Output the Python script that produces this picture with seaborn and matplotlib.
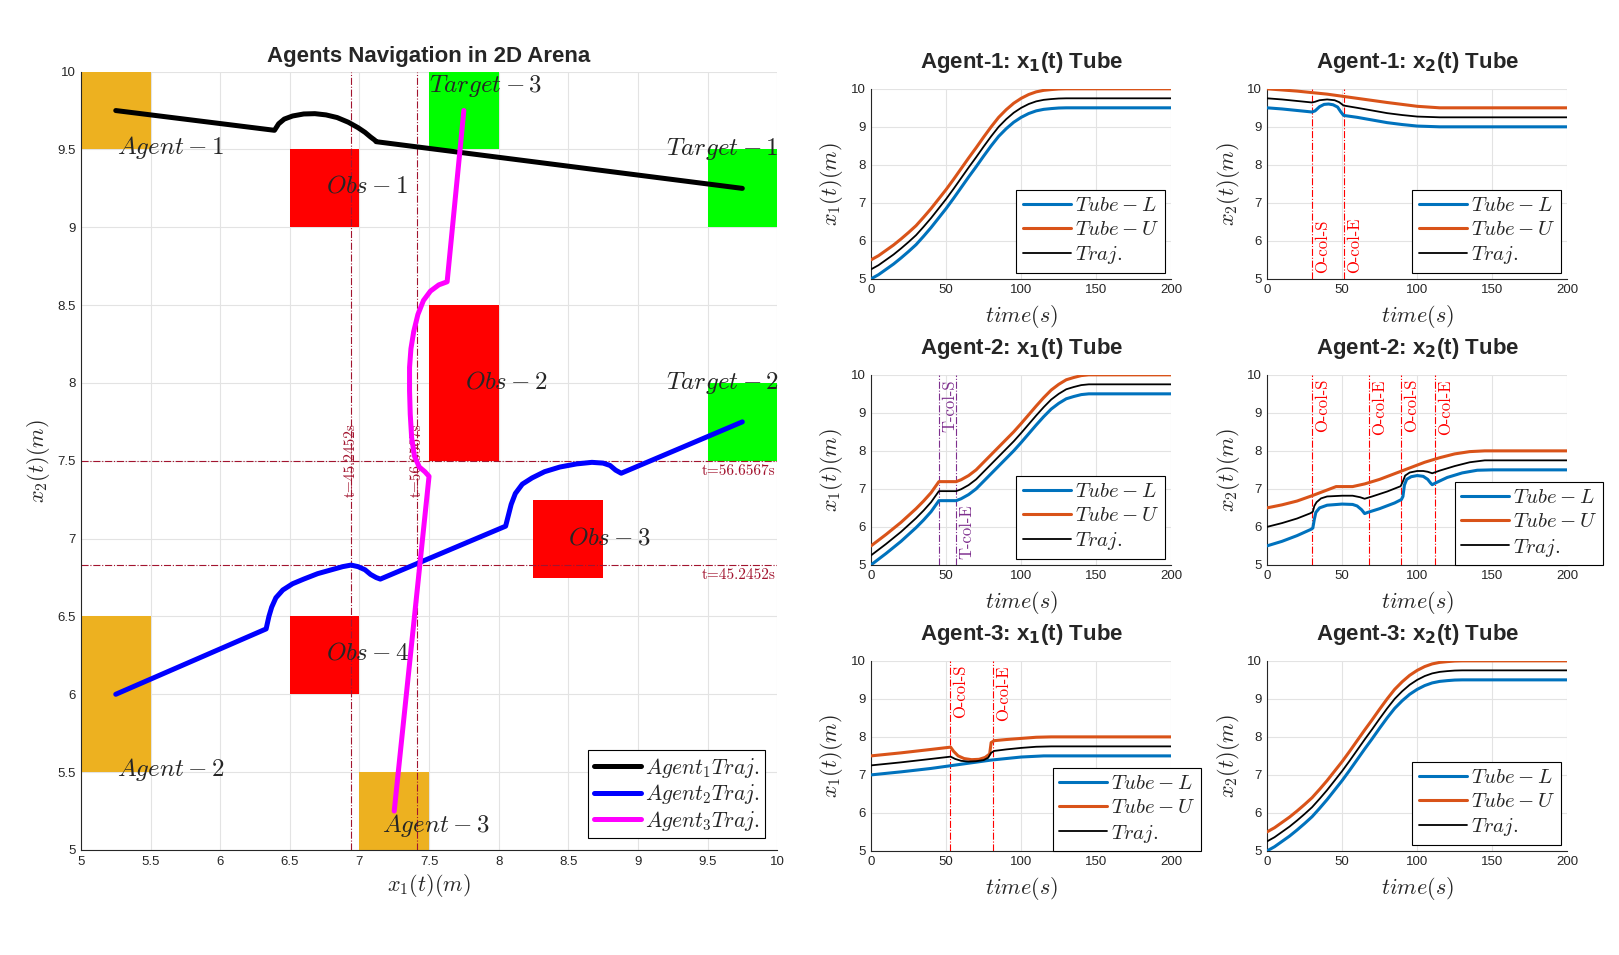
import matplotlib
matplotlib.use("Agg")
import matplotlib.pyplot as plt
import matplotlib.transforms as mtransforms
from matplotlib.patches import Rectangle
import seaborn as sns

# ---------------- arena (left panel) ----------------
START_BOXES = [(5.0, 9.5, 0.5, 0.5), (5.0, 5.5, 0.5, 1.0), (7.0, 5.0, 0.5, 0.5)]
OBS_BOXES = [(6.5, 9.0, 0.5, 0.5), (7.5, 7.5, 0.5, 1.0), (8.25, 6.75, 0.5, 0.5), (6.5, 6.0, 0.5, 0.5)]
TARGET_BOXES = [(9.5, 9.0, 0.5, 0.5), (9.5, 7.5, 0.5, 0.5), (7.5, 9.5, 0.5, 0.5)]

ARENA_TEXT = ["$Agent-1$", "$Agent-2$", "$Agent-3$", "$Obs-1$", "$Obs-2$", "$Obs-3$", "$Obs-4$",
              "$Target-1$", "$Target-2$", "$Target-3$"]
ARENA_TEXT_X = [5.26, 5.26, 7.16, 6.76, 7.76, 8.5, 6.76, 9.2, 9.2, 7.5]
ARENA_TEXT_Y = [9.51, 5.52, 5.16, 9.27, 8.01, 7.01, 6.27, 9.5, 8.0, 9.91]

A1_X = [5.25, 6.39, 6.42, 6.46, 6.52, 6.6, 6.68, 6.76, 6.84, 6.92, 6.99, 7.04, 7.08, 7.11, 7.12, 9.75]
A1_Y = [9.75, 9.623, 9.665, 9.695, 9.715, 9.728, 9.73, 9.722, 9.705, 9.675, 9.64, 9.61, 9.58, 9.56, 9.55, 9.25]

A2_X = [5.25, 6.33, 6.35, 6.37, 6.4, 6.45, 6.52, 6.6, 6.7, 6.8, 6.88, 6.94, 6.99, 7.04, 7.08, 7.12, 7.15,
        8.05, 8.07, 8.09, 8.12, 8.17, 8.24, 8.33, 8.44, 8.56, 8.67, 8.75, 8.8, 8.84, 8.88, 9.75]
A2_Y = [6.0, 6.42, 6.5, 6.56, 6.62, 6.67, 6.71, 6.74, 6.775, 6.8, 6.82, 6.83, 6.82, 6.8, 6.77, 6.75, 6.74,
        7.08, 7.15, 7.22, 7.29, 7.35, 7.39, 7.43, 7.46, 7.48, 7.49, 7.485, 7.47, 7.44, 7.42, 7.75]

A3_X = [7.25, 7.5, 7.47, 7.43, 7.395, 7.375, 7.365, 7.36, 7.36, 7.37, 7.39, 7.42, 7.46, 7.51, 7.57, 7.63, 7.75]
A3_Y = [5.25, 7.4, 7.43, 7.46, 7.53, 7.65, 7.8, 7.95, 8.1, 8.22, 8.33, 8.44, 8.53, 8.59, 8.63, 8.65, 9.75]

COLLIDE_X = [6.94, 7.41]          # x1 positions at the collision times
COLLIDE_Y = [6.83, 7.5]           # x2 positions at the collision times
COLLIDE_LBL = ["t=45.2452s", "t=56.6567s"]

# ---------------- tubes (right panels) ----------------
# Agent-1 x1
A1X1_T = [0, 5, 10, 15, 20, 25, 30, 35, 40, 45, 50, 55, 60, 65, 70, 75, 80, 85, 90, 95, 100, 105, 110, 115,
          120, 125, 130, 200]
A1X1_L = [5.0, 5.11, 5.25, 5.39, 5.55, 5.72, 5.9, 6.12, 6.35, 6.6, 6.85, 7.12, 7.4, 7.68, 7.95, 8.23, 8.5,
          8.75, 8.95, 9.12, 9.25, 9.35, 9.42, 9.46, 9.48, 9.495, 9.5, 9.5]
A1X1_U = [5.5, 5.61, 5.75, 5.89, 6.05, 6.22, 6.4, 6.62, 6.85, 7.1, 7.35, 7.62, 7.9, 8.18, 8.45, 8.73, 9.0,
          9.25, 9.45, 9.62, 9.75, 9.85, 9.92, 9.96, 9.98, 9.995, 10.0, 10.0]
A1X1_TR = [5.25, 5.36, 5.5, 5.64, 5.8, 5.97, 6.15, 6.37, 6.6, 6.85, 7.1, 7.37, 7.65, 7.93, 8.2, 8.48, 8.75,
           9.0, 9.2, 9.37, 9.5, 9.6, 9.67, 9.71, 9.73, 9.745, 9.75, 9.75]

# Agent-1 x2
A1X2_UT = [0, 20, 40, 60, 80, 100, 115, 200]
A1X2_U = [10.0, 9.94, 9.86, 9.75, 9.64, 9.54, 9.5, 9.5]
A1X2_LT = [0, 10, 20, 30, 32, 35, 38, 41, 44, 47, 49, 51, 60, 70, 80, 90, 100, 115, 200]
A1X2_L = [9.5, 9.47, 9.43, 9.39, 9.42, 9.53, 9.59, 9.6, 9.58, 9.52, 9.4, 9.3, 9.25, 9.18, 9.11, 9.06, 9.02, 9.0, 9.0]
A1X2_TT = [0, 10, 20, 30, 32, 35, 40, 45, 48, 51, 60, 70, 80, 90, 100, 115, 200]
A1X2_TR = [9.75, 9.72, 9.68, 9.64, 9.66, 9.7, 9.72, 9.7, 9.65, 9.56, 9.5, 9.43, 9.36, 9.31, 9.27, 9.25, 9.25]
A1X2_VT = [30, 51.5]
A1X2_VL = ["O-col-S", "O-col-E"]

# Agent-2 x1
A2X1_T = [0, 5, 10, 15, 20, 25, 30, 35, 40, 45.2, 56.7, 60, 65, 70, 75, 80, 85, 90, 95, 100, 105, 110, 115,
          120, 125, 130, 135, 140, 145, 200]
A2X1_L = [5.0, 5.15, 5.3, 5.46, 5.62, 5.8, 5.98, 6.18, 6.4, 6.69, 6.69, 6.74, 6.85, 7.0, 7.2, 7.4, 7.6, 7.8,
          8.0, 8.22, 8.45, 8.68, 8.9, 9.1, 9.25, 9.37, 9.43, 9.48, 9.5, 9.5]
A2X1_U = [5.5, 5.65, 5.8, 5.96, 6.12, 6.3, 6.48, 6.68, 6.9, 7.19, 7.19, 7.24, 7.35, 7.5, 7.7, 7.9, 8.1, 8.3,
          8.5, 8.72, 8.95, 9.18, 9.4, 9.6, 9.75, 9.87, 9.93, 9.98, 10.0, 10.0]
A2X1_TR = [5.25, 5.4, 5.55, 5.71, 5.87, 6.05, 6.23, 6.43, 6.65, 6.94, 6.94, 6.99, 7.1, 7.25, 7.45, 7.65, 7.85,
           8.05, 8.25, 8.47, 8.7, 8.93, 9.15, 9.35, 9.5, 9.62, 9.68, 9.73, 9.75, 9.75]
A2X1_VT = [45.2452, 56.6567]
A2X1_VL = ["T-col-S", "T-col-E"]

# Agent-2 x2
A2X2_UT = [0, 10, 20, 30, 40, 46, 57, 65, 75, 85, 95, 105, 115, 125, 135, 145, 200]
A2X2_U = [6.5, 6.58, 6.68, 6.82, 6.97, 7.06, 7.06, 7.13, 7.25, 7.4, 7.55, 7.7, 7.82, 7.92, 7.98, 8.0, 8.0]
A2X2_LT = [0, 10, 20, 29, 30.5, 31.5, 32.5, 35, 40, 50, 57, 60, 63, 65, 67, 75, 85, 89.5, 90.5, 91.5, 93, 96,
           100, 104, 107, 109, 110, 113, 120, 130, 140, 150, 200]
A2X2_L = [5.5, 5.62, 5.77, 5.93, 5.97, 6.2, 6.38, 6.5, 6.57, 6.6, 6.59, 6.55, 6.45, 6.35, 6.38, 6.48, 6.63, 6.72,
          6.8, 7.1, 7.25, 7.32, 7.35, 7.33, 7.25, 7.15, 7.11, 7.17, 7.3, 7.42, 7.49, 7.5, 7.5]
A2X2_TT = [0, 10, 20, 29, 30.5, 31.5, 33, 36, 40, 50, 57, 62, 65, 70, 80, 89, 90.5, 92, 95, 100, 104, 107, 110,
           115, 125, 135, 145, 200]
A2X2_TR = [6.0, 6.1, 6.22, 6.36, 6.4, 6.55, 6.65, 6.75, 6.8, 6.82, 6.82, 6.78, 6.74, 6.8, 6.93, 7.07, 7.2, 7.35,
           7.43, 7.47, 7.47, 7.45, 7.41, 7.48, 7.6, 7.7, 7.75, 7.75]
A2X2_VT = [30, 68, 89.5, 112]
A2X2_VL = ["O-col-S", "O-col-E", "O-col-S", "O-col-E"]

# Agent-3 x1
A3X1_LT = [0, 20, 40, 60, 80, 100, 115, 200]
A3X1_L = [7.0, 7.08, 7.17, 7.28, 7.39, 7.47, 7.5, 7.5]
A3X1_UT = [0, 20, 40, 53, 55, 58, 62, 67, 72, 76, 79, 80, 82, 90, 100, 110, 120, 200]
A3X1_U = [7.5, 7.58, 7.67, 7.73, 7.62, 7.5, 7.43, 7.4, 7.41, 7.46, 7.55, 7.85, 7.9, 7.93, 7.96, 7.99, 8.0, 8.0]
A3X1_TT = [0, 20, 40, 53, 56, 60, 65, 70, 75, 78, 80, 82, 90, 100, 110, 120, 200]
A3X1_TR = [7.25, 7.33, 7.42, 7.48, 7.42, 7.37, 7.35, 7.36, 7.39, 7.45, 7.58, 7.63, 7.67, 7.71, 7.74, 7.75, 7.75]
A3X1_VT = [52.5, 81.5]
A3X1_VL = ["O-col-S", "O-col-E"]

# Agent-3 x2
A3X2_T = [0, 5, 10, 15, 20, 25, 30, 35, 40, 45, 50, 55, 60, 65, 70, 75, 80, 85, 90, 95, 100, 105, 110, 115,
          120, 125, 130, 200]
A3X2_L = [5.0, 5.11, 5.25, 5.39, 5.55, 5.72, 5.9, 6.12, 6.35, 6.6, 6.85, 7.12, 7.4, 7.68, 7.95, 8.23, 8.5,
          8.75, 8.95, 9.12, 9.25, 9.35, 9.42, 9.46, 9.48, 9.495, 9.5, 9.5]
A3X2_U = [5.5, 5.61, 5.75, 5.89, 6.05, 6.22, 6.4, 6.62, 6.85, 7.1, 7.35, 7.62, 7.9, 8.18, 8.45, 8.73, 9.0,
          9.25, 9.45, 9.62, 9.75, 9.85, 9.92, 9.96, 9.98, 9.995, 10.0, 10.0]
A3X2_TR = [5.25, 5.36, 5.5, 5.64, 5.8, 5.97, 6.15, 6.37, 6.6, 6.85, 7.1, 7.37, 7.65, 7.93, 8.2, 8.48, 8.75,
           9.0, 9.2, 9.37, 9.5, 9.6, 9.67, 9.71, 9.73, 9.745, 9.75, 9.75]

# ---------------- style ----------------
sns.set_style("white")
plt.rcParams['font.family'] = ['Liberation Sans', 'DejaVu Sans']
plt.rcParams['mathtext.fontset'] = 'cm'
plt.rcParams['axes.unicode_minus'] = False

AX_DARK = "#262626"
GRID_C = "#e3e3e3"
C_L, C_U = "#0072BD", "#D95319"
C_MARK = "#A2142F"


def style_axes(ax, xticks, yticks, xlabels, ylabels, tick_size):
    ax.set_xticks(xticks)
    ax.set_yticks(yticks)
    ax.set_xticklabels(xlabels)
    ax.set_yticklabels(ylabels)
    ax.set_xlim(xticks[0], xticks[-1])
    ax.set_ylim(yticks[0], yticks[-1])
    ax.grid(True, color=GRID_C, lw=0.8)
    ax.set_axisbelow(True)
    for s in ["top", "right"]:
        ax.spines[s].set_visible(False)
    for s in ["left", "bottom"]:
        ax.spines[s].set_color(AX_DARK)
        ax.spines[s].set_linewidth(0.8)
    ax.tick_params(direction="in", length=3, width=0.6, colors=AX_DARK, labelsize=tick_size, pad=4)


fig = plt.figure(figsize=(16.19, 9.55), dpi=100)

# ===== arena =====
ax = fig.add_axes([0.050, 0.110, 0.430, 0.815])
for boxes, col in [(START_BOXES, "#EDB120"), (OBS_BOXES, "#FF0000"), (TARGET_BOXES, "#00FF00")]:
    for (x0, y0, w, h) in boxes:
        ax.add_patch(Rectangle((x0, y0), w, h, facecolor=col, edgecolor="none", zorder=1))

for xv in COLLIDE_X:
    ax.axvline(xv, color=C_MARK, ls="-.", lw=0.8, zorder=2)
for yv in COLLIDE_Y:
    ax.axhline(yv, color=C_MARK, ls="-.", lw=0.8, zorder=2)
for xv, lbl in zip(COLLIDE_X, COLLIDE_LBL):
    ax.text(xv, 7.27, lbl, rotation=90, ha="center", va="bottom", color=C_MARK, fontsize=11,
            family="cmr10", zorder=3)
for yv, lbl in zip(COLLIDE_Y, COLLIDE_LBL):
    ax.text(9.99, yv - 0.02, lbl, ha="right", va="top", color=C_MARK, fontsize=11, family="cmr10", zorder=3)

sns.lineplot(x=A1_X, y=A1_Y, ax=ax, color="black", lw=3.6, sort=False, estimator=None,
             label="$Agent_1 Traj.$", zorder=4)
sns.lineplot(x=A2_X, y=A2_Y, ax=ax, color="#0000FF", lw=3.6, sort=False, estimator=None,
             label="$Agent_2 Traj.$", zorder=4)
sns.lineplot(x=A3_X, y=A3_Y, ax=ax, color="#FF00FF", lw=3.6, sort=False, estimator=None,
             label="$Agent_3 Traj.$", zorder=4)

for txt, tx, ty in zip(ARENA_TEXT, ARENA_TEXT_X, ARENA_TEXT_Y):
    ax.text(tx, ty, txt, ha="left", va="center", fontsize=18, zorder=5)

ticks = [5 + 0.5 * i for i in range(11)]
tick_lbls = ["5", "5.5", "6", "6.5", "7", "7.5", "8", "8.5", "9", "9.5", "10"]
style_axes(ax, ticks, ticks, tick_lbls, tick_lbls, 9.5)
ax.set_title("Agents Navigation in 2D Arena", fontsize=16, fontweight="bold", pad=7)
ax.set_xlabel("$x_1(t)(m)$", fontsize=16)
ax.set_ylabel("$x_2(t)(m)$", fontsize=16)
ax.xaxis.set_label_coords(0.5, -0.028)
ax.yaxis.set_label_coords(-0.042, 0.5)
leg = ax.legend(loc="lower right", fontsize=15.5, frameon=True, fancybox=False, framealpha=1,
                edgecolor="black", handlelength=2.2, handletextpad=0.2, labelspacing=0.12,
                borderpad=0.25, borderaxespad=0.55)
leg.get_frame().set_linewidth(0.8)

# ===== tubes =====
COL_X = [0.538, 0.7826]
ROW_Y = [0.708, 0.4085, 0.109]
W, H = 0.1855, 0.199

panels = [
    (0, 0, "Agent-1: x$_\\mathbf{1}$(t) Tube", "$x_1(t)(m)$",
     (A1X1_T, A1X1_L), (A1X1_T, A1X1_U), (A1X1_T, A1X1_TR), [], [], "#FF0000", "top", None),
    (0, 1, "Agent-1: x$_\\mathbf{2}$(t) Tube", "$x_2(t)(m)$",
     (A1X2_LT, A1X2_L), (A1X2_UT, A1X2_U), (A1X2_TT, A1X2_TR), A1X2_VT, A1X2_VL, "#FF0000", "bottom", None),
    (1, 0, "Agent-2: x$_\\mathbf{1}$(t) Tube", "$x_1(t)(m)$",
     (A2X1_T, A2X1_L), (A2X1_T, A2X1_U), (A2X1_T, A2X1_TR), A2X1_VT, A2X1_VL, "#7E2F8E", "mixed", None),
    (1, 1, "Agent-2: x$_\\mathbf{2}$(t) Tube", "$x_2(t)(m)$",
     (A2X2_LT, A2X2_L), (A2X2_UT, A2X2_U), (A2X2_TT, A2X2_TR), A2X2_VT, A2X2_VL, "#FF0000", "top", (1.12, 0.0)),
    (2, 0, "Agent-3: x$_\\mathbf{1}$(t) Tube", "$x_1(t)(m)$",
     (A3X1_LT, A3X1_L), (A3X1_UT, A3X1_U), (A3X1_TT, A3X1_TR), A3X1_VT, A3X1_VL, "#FF0000", "top", (1.10, 0.0)),
    (2, 1, "Agent-3: x$_\\mathbf{2}$(t) Tube", "$x_2(t)(m)$",
     (A3X2_T, A3X2_L), (A3X2_T, A3X2_U), (A3X2_T, A3X2_TR), [], [], "#FF0000", "top", None),
]

for row, col, title, ylab, lo, hi, tr, vts, vls, vcol, vpos, anchor in panels:
    a = fig.add_axes([COL_X[col], ROW_Y[row], W, H])
    trans = mtransforms.blended_transform_factory(a.transData, a.transAxes)
    for i, (vt, vl) in enumerate(zip(vts, vls)):
        a.axvline(vt, color=vcol, ls="-.", lw=0.8, zorder=2)
        pos = vpos if vpos != "mixed" else ("top" if i == 0 else "bottom")
        if pos == "top":
            a.annotate(vl, xy=(vt, 1.0), xycoords=trans, xytext=(2, -3), textcoords="offset points",
                       rotation=90, ha="left", va="top", color=vcol, fontsize=12, family="cmr10")
        else:
            a.annotate(vl, xy=(vt, 0.0), xycoords=trans, xytext=(2, 4), textcoords="offset points",
                       rotation=90, ha="left", va="bottom", color=vcol, fontsize=12, family="cmr10")
    sns.lineplot(x=lo[0], y=lo[1], ax=a, color=C_L, lw=2.2, estimator=None, sort=False,
                 label="$Tube-L$", zorder=3)
    sns.lineplot(x=hi[0], y=hi[1], ax=a, color=C_U, lw=2.2, estimator=None, sort=False,
                 label="$Tube-U$", zorder=3)
    sns.lineplot(x=tr[0], y=tr[1], ax=a, color="black", lw=1.3, estimator=None, sort=False,
                 label="$Traj.$", zorder=4)
    style_axes(a, [0, 50, 100, 150, 200], [5, 6, 7, 8, 9, 10],
               ["0", "50", "100", "150", "200"], ["5", "6", "7", "8", "9", "10"], 9.5)
    a.set_title(title, fontsize=16, fontweight="bold", pad=15, math_fontfamily="dejavusans")
    a.set_xlabel("$time(s)$", fontsize=16)
    a.set_ylabel(ylab, fontsize=16)
    a.xaxis.set_label_coords(0.5, -0.125)
    a.yaxis.set_label_coords(-0.085, 0.5)
    kw = dict(fontsize=15, fancybox=False, framealpha=1, edgecolor="black", handlelength=2.3,
              handletextpad=0.2, labelspacing=0.25, borderpad=0.3)
    if anchor is None:
        lg = a.legend(loc="lower right", borderaxespad=0.3, **kw)
    else:
        lg = a.legend(loc="lower right", bbox_to_anchor=anchor, borderaxespad=0.0, **kw)
    lg.get_frame().set_linewidth(0.8)

fig.savefig("out.png", dpi=100)
